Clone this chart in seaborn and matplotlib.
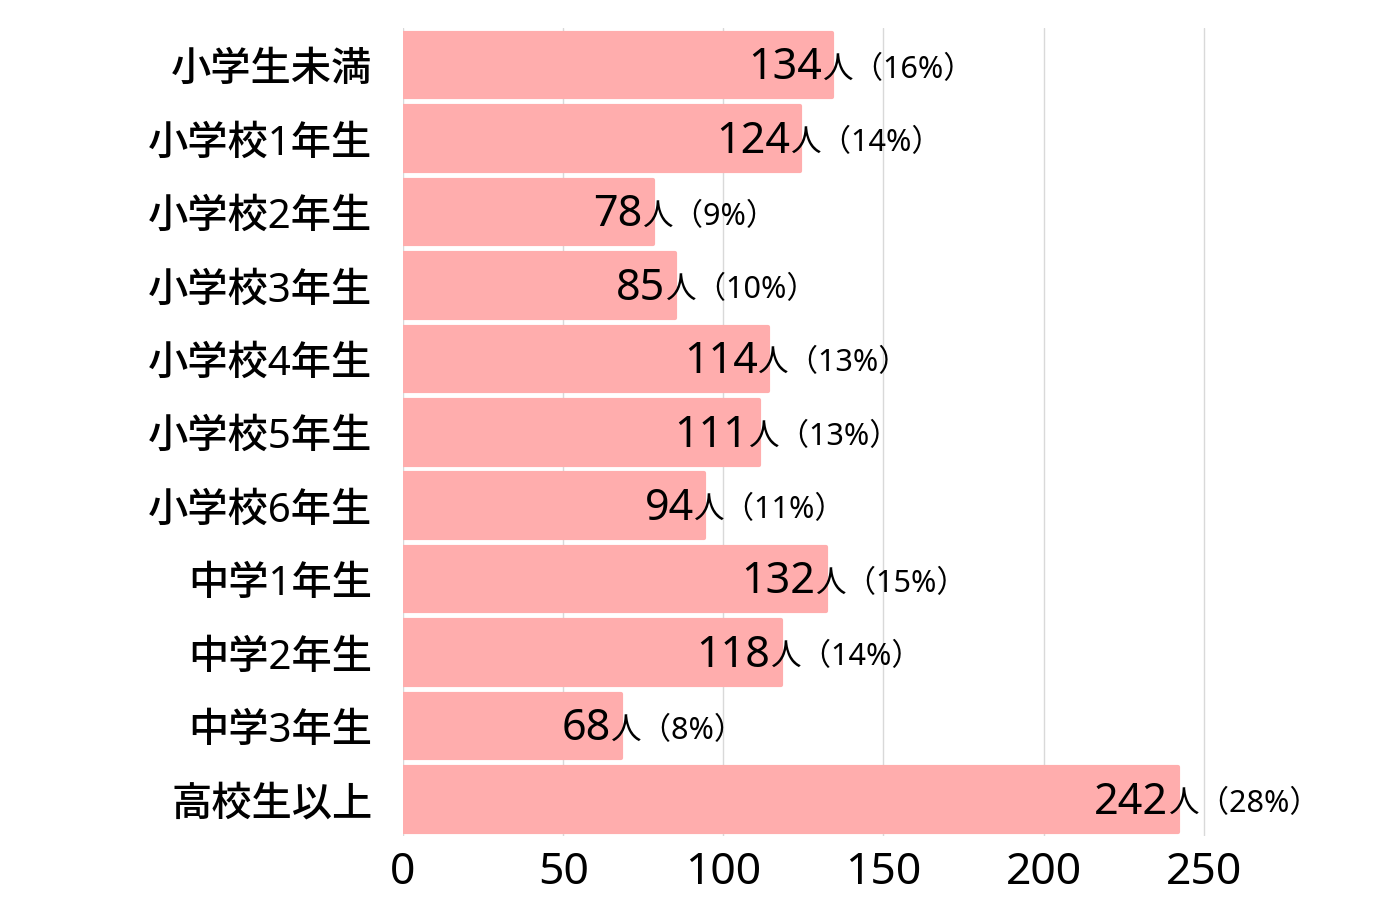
import matplotlib
matplotlib.use('Agg')
import matplotlib.pyplot as plt
import seaborn as sns
import pandas as pd

grades = ['小学生未満', '小学校1年生', '小学校2年生', '小学校3年生', '小学校4年生',
          '小学校5年生', '小学校6年生', '中学1年生', '中学2年生', '中学3年生', '高校生以上']
counts = [134, 124, 78, 85, 114, 111, 94, 132, 118, 68, 242]
shares = [16, 14, 9, 10, 13, 13, 11, 15, 14, 8, 28]

df = pd.DataFrame({'grade': grades, 'count': counts, 'share': shares})

sns.set_theme(style='white')
plt.rcParams['font.family'] = ['Noto Sans', 'Noto Sans CJK JP', 'DejaVu Sans']
plt.rcParams['text.color'] = 'black'
plt.rcParams['xtick.color'] = 'black'
plt.rcParams['ytick.color'] = 'black'

fig = plt.figure(figsize=(13.8, 9.2), dpi=100)
ax = fig.add_axes([0.292, 0.090, 0.65, 0.878])

sns.barplot(data=df, y='grade', x='count', orient='h', color='#ffadad',
            saturation=1, width=0.88, ax=ax)
for p in ax.patches:
    p.set_edgecolor('#ffadad')
    p.set_linewidth(3)
    p.set_joinstyle('round')

ax.set_xlim(0, 280)
ax.set_xticks([0, 50, 100, 150, 200, 250])
ax.xaxis.grid(True, color='#d9d9d9', linewidth=1)
ax.set_axisbelow(True)
sns.despine(ax=ax, left=True, bottom=True)
ax.set_xlabel('')
ax.set_ylabel('')
ax.tick_params(axis='x', length=0, labelsize=32, pad=10)
ax.tick_params(axis='y', length=0, labelsize=29, pad=22)
for lab in ax.get_yticklabels():
    lab.set_fontweight('medium')

# number ends a little inside the bar, the suffix follows right after it
for i, (c, s) in enumerate(zip(counts, shares)):
    ax.annotate(str(c), (c, i + 0.03), xytext=(-7.5, 0), textcoords='offset points',
                ha='right', va='center', fontsize=31)
    ax.annotate(f'人（{s}%）', (c, i + 0.05), xytext=(-7, 0), textcoords='offset points',
                ha='left', va='center', fontsize=22)

fig.savefig('out.png', dpi=100)
